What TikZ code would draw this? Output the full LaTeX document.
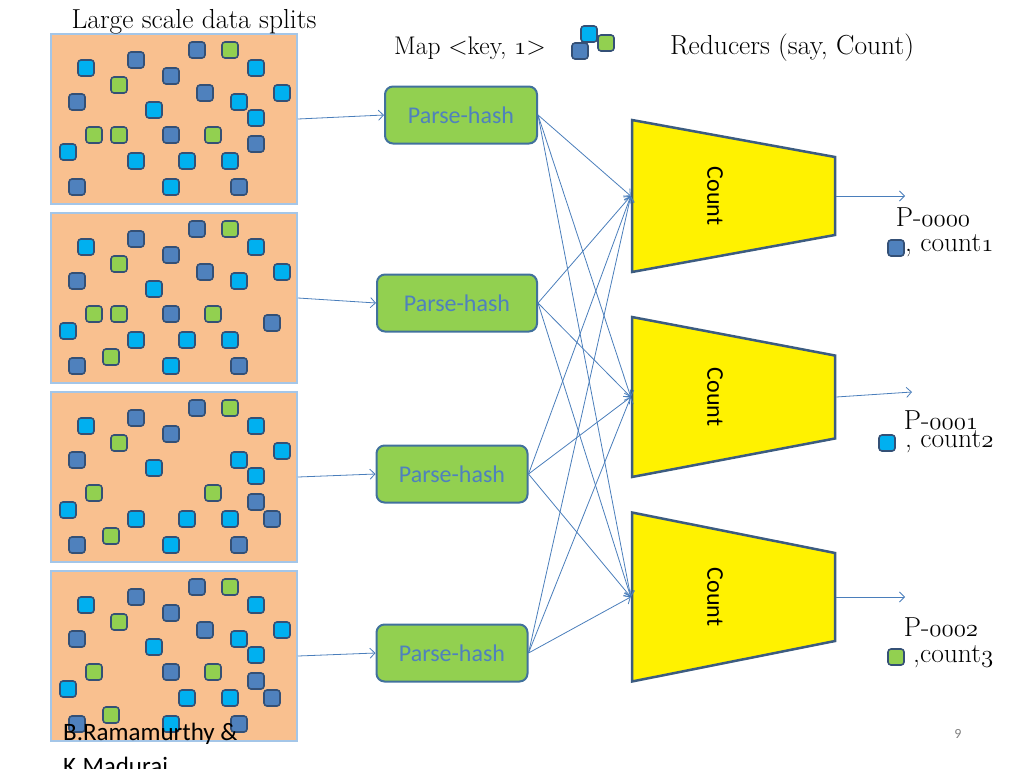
\documentclass[tikz,border=0pt]{standalone}
\usepackage{fontspec}
\newfontfamily\calibri{Carlito}
\usetikzlibrary{shapes.geometric,arrows.meta}

\definecolor{splitfill}{RGB}{249,192,143}
\definecolor{splitline}{RGB}{164,198,232}
\definecolor{keydark}{RGB}{79,129,189}
\definecolor{keycyan}{RGB}{0,176,240}
\definecolor{keygreen}{RGB}{146,208,80}
\definecolor{keyline}{RGB}{52,80,118}
\definecolor{arrowblue}{RGB}{74,126,187}
\definecolor{mapline}{RGB}{65,113,156}
\definecolor{countline}{RGB}{60,92,128}
\newcommand{\oldnum}[1]{{\usefont{OML}{cmm}{m}{it}#1}}

\begin{document}
\begin{tikzpicture}[x=1pt,y=-1pt,
  split/.style={draw=splitline,line width=2pt,fill=splitfill,minimum width=246pt,minimum height=170pt,inner sep=0pt},
  key/.style={draw=keyline,line width=1.6pt,rounded corners=3pt,minimum size=16pt,inner sep=0pt},
  maptask/.style={draw=mapline,line width=2pt,fill=keygreen,rounded corners=8pt,minimum height=57pt,inner sep=0pt,text=keydark,font=\calibri\fontsize{24}{28}\selectfont},
  reducer/.style={trapezium,trapezium stretches=true,draw=countline,line width=2.5pt,fill=yellow,rotate=-90,minimum height=203pt,inner sep=2pt},
  serif/.style={inner sep=0pt,font=\fontsize{27.5}{32}\selectfont},
  link/.style={draw=arrowblue,line width=0.8pt,-{Straight Barb[length=5pt,width=10pt]}}]
\useasboundingbox (0,0) rectangle (1024,768);

% data splits
\foreach \n/\top in {1/33, 2/212, 3/391, 4/570} {
  \node[split] (split\n) at (174,\top+86) {};
  \foreach \x/\y/\c [count=\i] in {197/17/keydark, 136/27/keydark, 171/43/keydark, 77/69/keydark, 77/154/keydark, 239/154/keydark,
      230/17/keygreen, 119/52/keygreen, 94/102/keygreen, 213/102/keygreen,
      86/35/keycyan, 256/35/keycyan, 282/60/keycyan, 239/69/keycyan, 154/77/keycyan, 68/119/keycyan, 187/128/keycyan, 230/128/keycyan, 171/154/keycyan}
    \node[key,fill=\c] (k\n-\i) at (\x,\top+\y) {};
}
\foreach \n/\x/\y/\c [count=\i] in {1/205/60/keydark, 1/171/102/keydark, 1/256/111/keydark, 1/119/102/keygreen, 1/256/85/keycyan, 1/136/128/keycyan,
    2/205/60/keydark, 2/171/102/keydark, 2/272/111/keydark, 2/119/102/keygreen, 2/111/145/keygreen, 2/136/128/keycyan,
    3/256/111/keydark, 3/272/128/keydark, 3/111/145/keygreen, 3/256/85/keycyan, 3/136/128/keycyan,
    4/205/60/keydark, 4/171/102/keydark, 4/256/111/keydark, 4/272/128/keydark, 4/111/145/keygreen, 4/256/85/keycyan}
  \node[key,fill=\c] (x\i) at (\x,\n*179-146+\y) {};

% map tasks
\foreach \n/\x/\y/\w in {1/461/115/152, 2/457/303/160, 3/452/474/151, 4/452/653/151}
  \node[maptask,minimum width=\w pt] (ph\n) at (\x,\y) {Parse-hash};

% reducers
\foreach \n/\y/\w/\a in {1/196/152/64.6, 2/397/160/65.1, 3/597/169/65.3} {
  \node[reducer,minimum width=\w pt,trapezium angle=\a] (red\n) at (733.5,\y) {};
  \node[rotate=-90,inner sep=0pt,font=\calibri\fontsize{24}{28}\selectfont] (cnt\n) at (715,\y) {Count};
}
\coordinate (out1) at (905,196);
\coordinate (out2) at (912,392);
\coordinate (out3) at (905,597);

\foreach \n in {1,2,3,4} {
  \draw[link] (split\n.east) -- (ph\n.west);
  \foreach \t in {1,2,3}
    \draw[link] (ph\n.east) -- (red\t.south);
}
\foreach \t in {1,2,3}
  \draw[link] (red\t.north) -- (out\t);

% headings
\node[serif,anchor=base] (title) at (194,29) {Large scale data splits};
\node[serif,anchor=base,font=\fontsize{25.5}{30}\selectfont] (maplbl) at (470,55) {Map <key, \oldnum{1}>};
\node[key,fill=keycyan] (icon1) at (589,34) {};
\node[key,fill=keygreen] (icon2) at (606,43) {};
\node[key,fill=keydark] (icon3) at (580,51) {};
\node[serif,anchor=base] (redlbl) at (792,55) {Reducers (say, Count)};

% outputs
\node[serif,anchor=base] (p0) at (933,226) {P-\oldnum{0000}};
\node[key,fill=keydark] (o0) at (896,248) {};
\node[serif,anchor=base west] (c0) at (905,251) {, count\oldnum{1}};
\node[serif,anchor=base] (p1) at (941,429) {P-\oldnum{0001}};
\node[key,fill=keycyan] (o1) at (887,443) {};
\node[serif,anchor=base west] (c1) at (905,447) {, count\oldnum{2}};
\node[serif,anchor=base] (p2) at (941,636) {P-\oldnum{0002}};
\node[key,fill=keygreen] (o2) at (896,657) {};
\node[serif,anchor=base west] (c2) at (913,662) {,count\oldnum{3}};

% footer
\node[inner sep=0pt,anchor=base west,font=\calibri\fontsize{25}{30}\selectfont] (auth1) at (63,740) {B.Ramamurthy \&};
\node[inner sep=0pt,anchor=base west,font=\calibri\fontsize{25}{30}\selectfont] (auth2) at (63,774) {K.Madurai};
\node[inner sep=0pt,text=gray,font=\calibri\fontsize{14}{16}\selectfont] (page) at (958,734) {9};
\end{tikzpicture}
\end{document}
